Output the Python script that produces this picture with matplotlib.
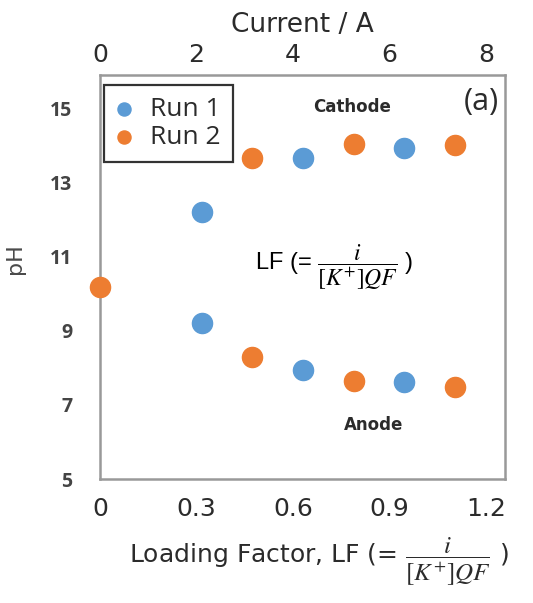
import numpy as np
import matplotlib.pyplot as plt

plt.rcParams['font.family'] = ['DejaVu Sans']
plt.rcParams['mathtext.fontset'] = 'stix'

# data
lf_run1 = [0.316, 0.316, 0.632, 0.632, 0.945, 0.945]
ph_run1 = [12.21, 9.22, 13.67, 7.94, 13.92, 7.63]
lf_run2 = [0.0, 0.473, 0.473, 0.79, 0.79, 1.104, 1.104]
ph_run2 = [10.19, 13.67, 8.28, 14.04, 7.65, 14.01, 7.47]

lf_ticks = [0, 0.3, 0.6, 0.9, 1.2]
lf_ticklabels = ['0', '0.3', '0.6', '0.9', '1.2']
ph_ticks = [5, 7, 9, 11, 13, 15]
current_ticks = [0, 2, 4, 6, 8]

blue = '#5B9BD5'
orange = '#ED7D31'
txt = '#2b2b2b'

fig = plt.figure(figsize=(5.33, 6.03), dpi=100)
ax = fig.add_axes([0.1876, 0.2056, 0.76, 0.67])

ax.scatter(lf_run1, ph_run1, s=210, color=blue, label='Run 1', zorder=3, clip_on=False)
ax.scatter(lf_run2, ph_run2, s=210, color=orange, label='Run 2', zorder=3, clip_on=False)

ax.set_xlim(0, 1.26)
ax.set_ylim(5, 15.9)
ax.set_xticks(lf_ticks)
ax.set_xticklabels(lf_ticklabels)
ax.set_yticks(ph_ticks)
ax.tick_params(axis='x', length=0, labelsize=18, colors=txt, pad=13)
ax.tick_params(axis='y', length=0, colors='#444444', pad=20)
for lab in ax.get_yticklabels():
    lab.set_family('Open Sans')
    lab.set_fontweight('bold')
    lab.set_fontsize(14)
for sp in ax.spines.values():
    sp.set_color('#999999')
    sp.set_linewidth(1.8)

ax.set_ylabel('pH', fontsize=16, color='#4a4a4a')
ax.yaxis.set_label_coords(-0.185, 0.545)
ax.set_xlabel(r'Loading Factor, LF (= $\dfrac{i}{[K^{+}]QF}$ )', fontsize=18,
              color=txt)
ax.xaxis.set_label_coords(0.54, -0.14)

# top axis: current
top = ax.secondary_xaxis('top', functions=(lambda x: x * 20 / 3, lambda c: c * 3 / 20))
top.set_xticks(current_ticks)
top.tick_params(length=0, labelsize=18, colors=txt, pad=6)
top.spines['top'].set_visible(False)
top.set_xlabel('Current / A', fontsize=19, labelpad=8, color=txt)

ax.text(1.24, 15.17, '(a)', fontsize=22, ha='right', va='center',
        family='Open Sans', color=txt)
ax.text(0.785, 15.05, 'Cathode', fontsize=12, fontweight='bold', ha='center',
        va='center', color=txt)
ax.text(0.85, 6.45, 'Anode', fontsize=12, fontweight='bold', ha='center',
        va='center', color=txt)
ax.text(0.727, 10.7, r'LF (= $\dfrac{i}{[K^{+}]QF}$ )', fontsize=17, ha='center',
        va='center', family='Liberation Sans', color='black')

leg = ax.legend(loc='upper left', bbox_to_anchor=(0.01, 0.975), borderaxespad=0,
                frameon=True, fancybox=False,
                prop={'family': 'Open Sans', 'size': 19},
                markerscale=0.65, handletextpad=0.7, borderpad=0.45,
                labelspacing=0.1, handlelength=0.6)
leg.get_frame().set_edgecolor('black')
leg.get_frame().set_linewidth(1.6)
for t in leg.get_texts():
    t.set_color(txt)

plt.savefig('out.png', dpi=100)
